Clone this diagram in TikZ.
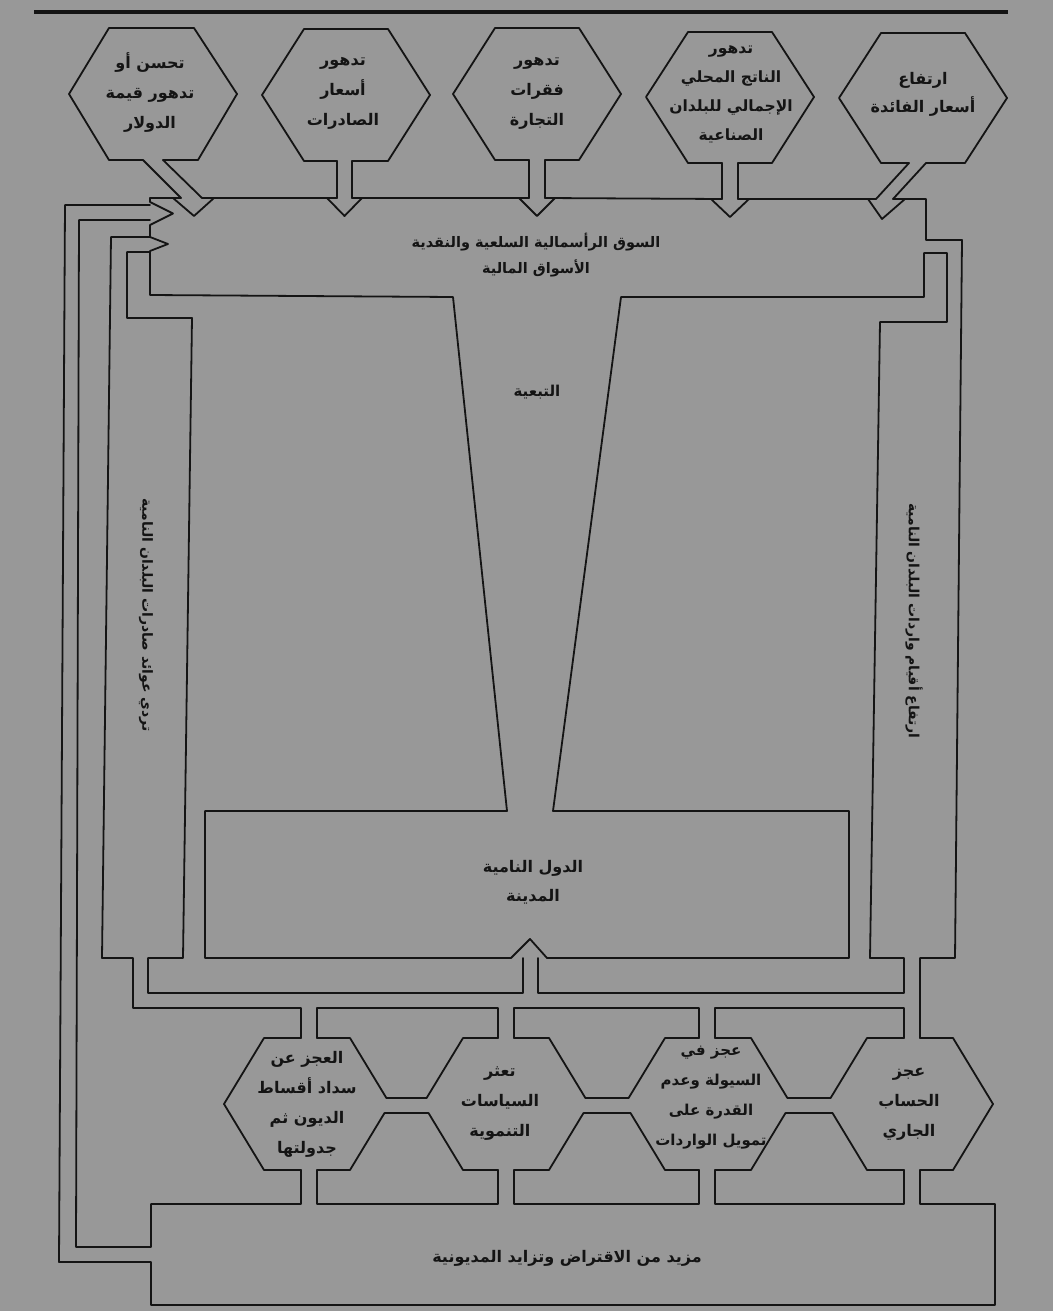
\documentclass[tikz,border=0pt]{standalone}
\usepackage{fontspec}
\newfontfamily\arabicfont[Script=Arabic]{DejaVu Sans}
\TeXXeTstate=1
\newcommand{\ART}[1]{\beginR #1\endR}
\definecolor{bg}{RGB}{152,152,152}
\definecolor{ink}{RGB}{20,20,20}
\tikzset{
  ln/.style={draw=ink, line width=1.8pt, line cap=round, line join=round},
  lbl/.style={font=\arabicfont\bfseries\fontsize{16}{30}\selectfont, align=center, inner sep=0pt, text=ink},
  vlbl/.style={lbl, rotate=-90, font=\arabicfont\bfseries\fontsize{14}{20}\selectfont},
}
\begin{document}
\begin{tikzpicture}[x=1pt,y=-1pt]
\fill[bg] (0,0) rectangle (1053,1311);
\useasboundingbox (0,0) rectangle (1053,1311);
% top rule
\draw[draw=ink, line width=4pt] (34,12) -- (1008,12);

% ---------- top hexagons ----------
% T1
\draw[ln] (143,160) -- (109,160) -- (69,94) -- (109,28) -- (194,28) -- (237,94) -- (198,160) -- (163,160);
\draw[ln] (143,160) -- (181,198);
\draw[ln] (163,160) -- (202,198);
\draw[ln] (173,198) -- (194,216) -- (214,198);
% T2
\draw[ln] (337,161) -- (304,161) -- (262,95) -- (304,29) -- (388,29) -- (430,95) -- (388,161) -- (352,161);
\draw[ln] (337,161) -- (337,198);
\draw[ln] (352,161) -- (352,198);
\draw[ln] (327,198) -- (344.5,216) -- (362,198);
% T3
\draw[ln] (529,160) -- (495,160) -- (453,94) -- (495,28) -- (579,28) -- (621,94) -- (579,160) -- (545,160);
\draw[ln] (529,160) -- (529,198);
\draw[ln] (545,160) -- (545,198);
\draw[ln] (519,198) -- (537,216) -- (555,198);
% T4
\draw[ln] (722,163) -- (688,163) -- (646,97) -- (688,32) -- (772,32) -- (814,97) -- (772,163) -- (738,163);
\draw[ln] (722,163) -- (722,199);
\draw[ln] (738,163) -- (738,199);
\draw[ln] (711,199) -- (730,217) -- (749,199);
% T5
\draw[ln] (909,163) -- (881,163) -- (839,98) -- (881,33) -- (965,33) -- (1007,98) -- (965,163) -- (926,163);
\draw[ln] (909,163) -- (876,199);
\draw[ln] (926,163) -- (893,199);
\draw[ln] (868,199) -- (882,219) -- (905,199);

% ---------- market box top ----------
\draw[ln] (150,198) -- (181,198);
\draw[ln] (202,198) -- (337,198);
\draw[ln] (352,198) -- (529,198);
\draw[ln] (545,198) -- (722,199);
\draw[ln] (738,199) -- (876,199);
\draw[ln] (893,199) -- (926,199) -- (926,240) -- (962,240) -- (955,958) -- (920,958) -- (920,1038);

% ---------- main outline: market box, funnel, debtor box, right pipe ----------
\draw[ln] (150,198) -- (150,202) -- (173,213.5) -- (150,225) -- (150,237) -- (168,244) -- (150,251)
  -- (150,295) -- (453,297) -- (507,811) -- (205,811) -- (205,958) -- (511,958) -- (530,939)
  -- (547,958) -- (849,958) -- (849,811) -- (553,811) -- (621,297) -- (924,297) -- (924,253)
  -- (947,253) -- (947,322) -- (880,322) -- (870,958) -- (904,958) -- (904,993) -- (538,993) -- (538,958);
\draw[ln] (523,958) -- (523,993) -- (148,993) -- (148,958) -- (183,958) -- (192,318) -- (127,318) -- (127,252) -- (150,252);

% left pipe 2 outer
\draw[ln] (150,237) -- (111,237) -- (102,958) -- (133,958) -- (133,1008) -- (301,1008) -- (301,1038);
% left pipe 1
\draw[ln] (150,205) -- (65,205) -- (59,1262) -- (151,1262) -- (151,1305) -- (995,1305) -- (995,1204) -- (920,1204) -- (920,1170);
\draw[ln] (150,220) -- (79,220) -- (76,1247) -- (151,1247) -- (151,1204) -- (301,1204) -- (301,1170);

% collector bottom segments
\draw[ln] (317,1038) -- (317,1008) -- (498,1008) -- (498,1038);
\draw[ln] (514,1038) -- (514,1008) -- (699,1008) -- (699,1038);
\draw[ln] (715,1038) -- (715,1008) -- (904,1008) -- (904,1038);

% ---------- lower hexagons ----------
\draw[ln] (301,1038) -- (264,1038) -- (224,1104) -- (264,1170) -- (301,1170);
\draw[ln] (317,1038) -- (350,1038) -- (386.4,1098) -- (426.6,1098) -- (463,1038) -- (498,1038);
\draw[ln] (317,1170) -- (350,1170) -- (384.5,1113) -- (428.5,1113) -- (463,1170) -- (498,1170);
\draw[ln] (514,1038) -- (549,1038) -- (585.4,1098) -- (628.6,1098) -- (665,1038) -- (699,1038);
\draw[ln] (514,1170) -- (549,1170) -- (583.5,1113) -- (630.5,1113) -- (665,1170) -- (699,1170);
\draw[ln] (715,1038) -- (751,1038) -- (787.4,1098) -- (830.6,1098) -- (867,1038) -- (904,1038);
\draw[ln] (715,1170) -- (751,1170) -- (785.5,1113) -- (832.5,1113) -- (867,1170) -- (904,1170);
\draw[ln] (920,1038) -- (953,1038) -- (993,1104) -- (953,1170) -- (920,1170);

% bottom pipes
\draw[ln] (317,1170) -- (317,1204) -- (498,1204) -- (498,1170);
\draw[ln] (514,1170) -- (514,1204) -- (699,1204) -- (699,1170);
\draw[ln] (715,1170) -- (715,1204) -- (904,1204) -- (904,1170);

% ---------- texts ----------
\node[lbl] (t1) at (150,93) {\ART{تحسن أو}\\\ART{تدهور قيمة}\\\ART{الدولار}};
\node[lbl] (t2) at (343,93) {\ART{تدهور}\\\ART{أسعار}\\\ART{الصادرات}};
\node[lbl] (t3) at (537,93) {\ART{تدهور}\\\ART{فقرات}\\\ART{التجارة}};
\node[lbl, font=\arabicfont\bfseries\fontsize{15.5}{29}\selectfont] (t4) at (731,94) {\ART{تدهور}\\\ART{الناتج المحلي}\\\ART{الإجمالي للبلدان}\\\ART{الصناعية}};
\node[lbl, font=\arabicfont\bfseries\fontsize{16}{28}\selectfont] (t5) at (923,94) {\ART{ارتفاع}\\\ART{أسعار الفائدة}};
\node[lbl, font=\arabicfont\bfseries\fontsize{14.5}{26}\selectfont] (mkt) at (536,255) {\ART{السوق الرأسمالية السلعية والنقدية}\\\ART{الأسواق المالية}};
\node[lbl, font=\arabicfont\bfseries\fontsize{15}{26}\selectfont] (dep) at (537,392) {\ART{التبعية}};
\node[lbl, font=\arabicfont\bfseries\fontsize{16}{29}\selectfont] (dc) at (533,882) {\ART{الدول النامية}\\\ART{المدينة}};
\node[vlbl] (exp) at (146,615) {\ART{تردي عوائد صادرات البلدان النامية}};
\node[vlbl] (imp) at (914,621) {\ART{ارتفاع أقيام واردات البلدان النامية}};
\node[lbl] (h1) at (307,1104) {\ART{العجز عن}\\\ART{سداد أقساط}\\\ART{الديون ثم}\\\ART{جدولتها}};
\node[lbl] (h2) at (500,1104) {\ART{تعثر}\\\ART{السياسات}\\\ART{التنموية}};
\node[lbl, font=\arabicfont\bfseries\fontsize{15}{30}\selectfont] (h3) at (711,1098) {\ART{عجز في}\\\ART{السيولة وعدم}\\\ART{القدرة على}\\\ART{تمويل الواردات}};
\node[lbl] (h4) at (909,1104) {\ART{عجز}\\\ART{الحساب}\\\ART{الجاري}};
\node[lbl] (debt) at (567,1258) {\ART{مزيد من الاقتراض وتزايد المديونية}};
\end{tikzpicture}
\end{document}
